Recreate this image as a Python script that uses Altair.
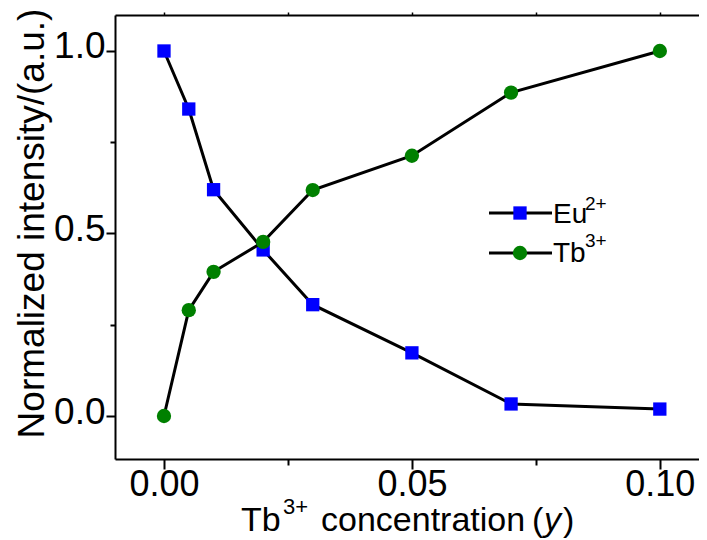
import altair as alt
import pandas as pd

# ---- data ----
conc = [0.0, 0.005, 0.01, 0.02, 0.03, 0.05, 0.07, 0.10]
eu_int = [1.0, 0.841, 0.620, 0.455, 0.305, 0.173, 0.033, 0.019]
tb_int = [0.0, 0.290, 0.395, 0.477, 0.619, 0.713, 0.886, 1.0]
x_ticks = [0.0, 0.025, 0.05, 0.075, 0.10]
y_ticks = [0.0, 0.25, 0.5, 0.75, 1.0]
leg_names = ["Eu", "Tb"]
leg_charges = ["2+", "3+"]
y_title = "Normalized intensity/(a.u.)"
x_title_parts = ["Tb", "3+", "concentration", "(", "y", ")"]

x_domain = [-0.00988, 0.1079]
y_domain = [-0.1178, 1.0986]

eu_df = pd.DataFrame({"x": conc, "y": eu_int})
tb_df = pd.DataFrame({"x": conc, "y": tb_int})

FONT = "Liberation Sans, Arial, sans-serif"
BLUE = "#0000ff"
GREEN = "#008000"

xs = alt.Scale(domain=x_domain, nice=False, zero=False)
ys = alt.Scale(domain=y_domain, nice=False, zero=False)

minor_x = "(datum.value > 0.02 && datum.value < 0.03) || (datum.value > 0.07 && datum.value < 0.08)"
minor_y = "(datum.value > 0.2 && datum.value < 0.3) || (datum.value > 0.7 && datum.value < 0.8)"

x_bottom = alt.Axis(
    values=x_ticks, title=None,
    labelExpr=f"({minor_x}) ? '' : format(datum.value, '.2f')",
    tickSize={"condition": {"test": minor_x, "value": 6}, "value": 10},
    tickWidth=2, tickColor="black", domainWidth=2, domainColor="black",
    labelFont=FONT, labelFontSize=36, labelColor="black", labelPadding=-2,
    labelFlush=False, labelOverlap=False, labelBound=False, grid=False,
)
x_top = alt.Axis(
    orient="top", values=x_ticks, labels=False, title=None,
    tickSize=3, tickWidth=1.5, tickColor="black",
    domainWidth=2, domainColor="black", grid=False,
)
y_left = alt.Axis(
    values=y_ticks, title=y_title,
    labelExpr=f"({minor_y}) ? '' : format(datum.value, '.1f')",
    tickSize={"condition": {"test": minor_y, "value": 5}, "value": 9},
    tickWidth=2, tickColor="black", domainWidth=2, domainColor="black",
    labelFont=FONT, labelFontSize=37, labelColor="black", labelPadding=1,
    labelOffset=-4,
    labelFlush=False, labelOverlap=False, labelBound=False, grid=False,
    titleFont=FONT, titleFontSize=37, titleFontWeight="normal", titleColor="black",
    titleX=-72, titleY=208, titleBaseline="alphabetic", titleAngle=270,
)

eu_line = alt.Chart(eu_df).mark_line(color="black", strokeWidth=3).encode(
    x=alt.X("x:Q", scale=xs, axis=x_bottom),
    y=alt.Y("y:Q", scale=ys, axis=y_left),
)
eu_pts = alt.Chart(eu_df).mark_point(shape="square", filled=True, size=177, color=BLUE, opacity=1).encode(
    x=alt.X("x:Q", scale=xs, axis=None),
    y=alt.Y("y:Q", scale=ys, axis=y_left),
)
tb_line = alt.Chart(tb_df).mark_line(color="black", strokeWidth=3).encode(
    x=alt.X("x:Q", scale=xs, axis=x_top),
    y=alt.Y("y:Q", scale=ys, axis=y_left),
)
tb_pts = alt.Chart(tb_df).mark_point(shape="circle", filled=True, size=205, color=GREEN, opacity=1).encode(
    x=alt.X("x:Q", scale=xs, axis=None),
    y=alt.Y("y:Q", scale=ys, axis=y_left),
)


def txt(s, px, py, size, style="normal", align="left"):
    return alt.Chart(pd.DataFrame({"t": [s]})).mark_text(
        align=align, baseline="alphabetic", font=FONT, fontSize=size,
        fontStyle=style, color="black",
    ).encode(x=alt.value(px), y=alt.value(py), text="t:N")


def leg_line(py):
    return alt.Chart(pd.DataFrame({"t": [0]})).mark_rule(color="black", strokeWidth=3).encode(
        x=alt.value(374), x2=alt.value(437), y=alt.value(py)
    )


def leg_marker(py, shape, size, color):
    return alt.Chart(pd.DataFrame({"t": [0]})).mark_point(
        shape=shape, filled=True, size=size, color=color, opacity=1
    ).encode(x=alt.value(405), y=alt.value(py))


legend = [
    leg_line(198), leg_marker(198, "square", 177, BLUE),
    txt(leg_names[0], 438, 208, 28), txt(leg_charges[0], 470, 195, 19),
    leg_line(238), leg_marker(238, "circle", 205, GREEN),
    txt(leg_names[1], 438, 247, 28), txt(leg_charges[1], 470, 232, 19),
]

xtitle = [
    txt(x_title_parts[0], 126, 516, 34),
    txt(x_title_parts[1], 168, 499, 22),
    txt(x_title_parts[2], 206, 516, 34),
    txt(x_title_parts[3], 417, 516, 34),
    txt(x_title_parts[4], 429, 516, 34, style="italic"),
    txt(x_title_parts[5], 448, 516, 34),
]

chart = alt.layer(
    eu_line, eu_pts, tb_line, tb_pts, *legend, *xtitle
).resolve_axis(x="independent").properties(
    width=584, height=444,
    autosize="none",
    padding={"left": 107, "top": 7, "right": 0, "bottom": 80},
    background="white",
).configure_view(stroke=None)

chart.save("out.html", embed_options={"renderer": "svg", "actions": False})
